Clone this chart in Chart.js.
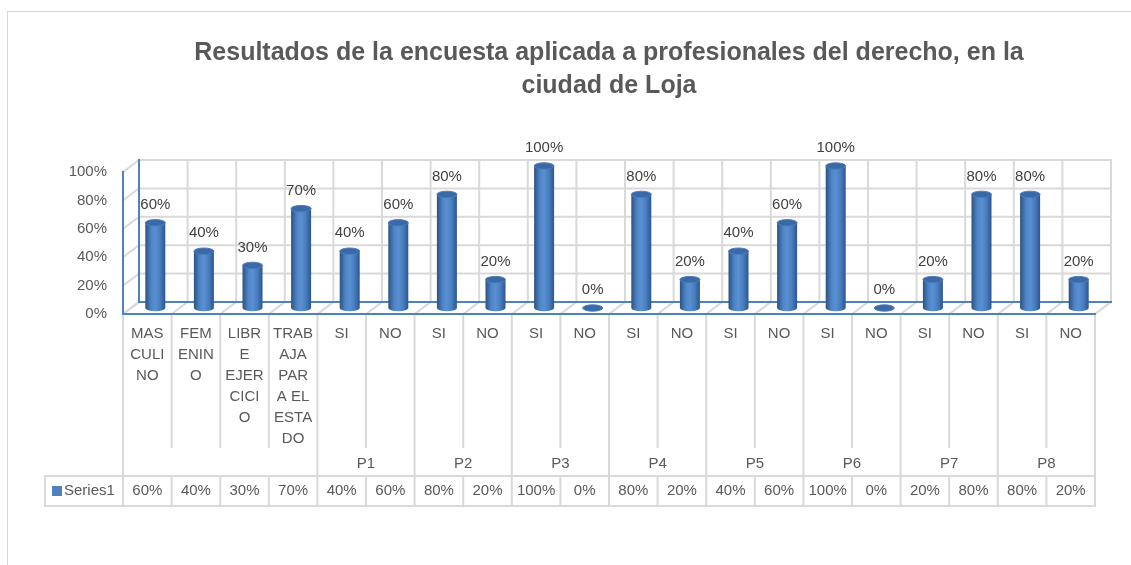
<!DOCTYPE html>
<html>
<head>
<meta charset="utf-8">
<script src="https://cdn.jsdelivr.net/npm/chart.js@4.4.1/dist/chart.umd.min.js"></script>
<style>
  html, body { margin:0; padding:0; background:#fff; overflow:hidden; width:1131px; height:565px; }
  #frame { position:absolute; left:7px; top:11px; width:1300px; height:700px; border:1px solid #d9d9d9; box-sizing:border-box; }
  #c { position:absolute; left:0; top:0; }
</style>
</head>
<body>
<div id="frame"></div>
<canvas id="c" width="1131" height="565"></canvas>
<script>
// ---------- data ----------
const categories = [
  ["MAS","CULI","NO"], ["FEM","ENIN","O"], ["LIBR","E","EJER","CICI","O"], ["TRAB","AJA","PAR","A EL","ESTA","DO"],
  "SI","NO","SI","NO","SI","NO","SI","NO","SI","NO","SI","NO","SI","NO","SI","NO"
];
const groupOf = ["","","","","P1","P1","P2","P2","P3","P3","P4","P4","P5","P5","P6","P6","P7","P7","P8","P8"];
const values = [60,40,30,70,40,60,80,20,100,0,80,20,40,60,100,0,20,80,80,20];
const yTicks = [0,20,40,60,80,100];
const seriesName = "Series1";
const titleLines = ["Resultados de la encuesta aplicada a profesionales del derecho, en la", "ciudad de Loja"];

// ---------- styling ----------
const FONT = "'Liberation Sans', Arial, sans-serif";
const TXT = "#595959";
const GRID = "#d9d9d9";
const AXBLUE = "#4f81bd";
const DX = 16, DY = -12;     // depth offset of back wall
const OX = 8, OY = -6;       // bar offset (mid depth)
const BARW = 20;

function cylinder(ctx, cx, top, bot, w) {
  const rx = w / 2, ry = 3.2;
  if (bot - top > 0.5) {
    const g = ctx.createLinearGradient(cx - rx, 0, cx + rx, 0);
    g.addColorStop(0, '#2b5283');
    g.addColorStop(0.3, '#4f86c8');
    g.addColorStop(0.5, '#5a90d2');
    g.addColorStop(0.75, '#477cbd');
    g.addColorStop(1, '#2c568c');
    ctx.beginPath();
    ctx.moveTo(cx - rx, top);
    ctx.lineTo(cx - rx, bot);
    ctx.ellipse(cx, bot, rx, ry, 0, Math.PI, 0, true);
    ctx.lineTo(cx + rx, top);
    ctx.closePath();
    ctx.fillStyle = g;
    ctx.fill();
  }
  ctx.beginPath();
  ctx.ellipse(cx, top, rx, ry, 0, 0, Math.PI * 2);
  ctx.fillStyle = '#3b69a7';
  ctx.fill();
  ctx.lineWidth = 1;
  ctx.strokeStyle = '#4a7bbd';
  ctx.stroke();
}

function line(ctx, x1, y1, x2, y2, color, w) {
  ctx.beginPath();
  ctx.moveTo(x1, y1); ctx.lineTo(x2, y2);
  ctx.strokeStyle = color; ctx.lineWidth = w; ctx.stroke();
}

const threeD = {
  id: 'threeD',
  beforeDatasetsDraw(chart) {
    const ctx = chart.ctx, a = chart.chartArea, ys = chart.scales.y;
    const n = categories.length, cw = (a.right - a.left) / n;
    ctx.save();
    ctx.lineCap = 'square';
    yTicks.forEach(v => {
      const y = ys.getPixelForValue(v);
      line(ctx, a.left + DX, y + DY, a.right + DX, y + DY, GRID, 2);
      line(ctx, a.left, y, a.left + DX, y + DY, GRID, 2);
    });
    for (let i = 0; i <= n; i++) {
      const x = a.left + i * cw;
      line(ctx, x + DX, a.top + DY, x + DX, a.bottom + DY, GRID, 2);
      line(ctx, x, a.bottom, x + DX, a.bottom + DY, GRID, 2);
    }
    line(ctx, a.left + DX, a.top + DY, a.left + DX, a.bottom + DY, AXBLUE, 2);
    line(ctx, a.left + DX, a.bottom + DY, a.right + DX, a.bottom + DY, AXBLUE, 2);
    line(ctx, a.left, a.top, a.left, a.bottom, AXBLUE, 2);
    line(ctx, a.left, a.bottom, a.right, a.bottom, AXBLUE, 2);
    ctx.restore();
  },
  afterDatasetsDraw(chart) {
    const ctx = chart.ctx, a = chart.chartArea;
    const meta = chart.getDatasetMeta(0);
    const data = chart.data.datasets[0].data;
    ctx.save();
    meta.data.forEach((el, i) => {
      const cx = el.x + OX;
      const top = el.y + OY, bot = el.base + OY;
      cylinder(ctx, cx, top, bot, BARW);
      ctx.fillStyle = '#404040';
      ctx.font = "15px " + FONT;
      ctx.textAlign = 'center';
      ctx.textBaseline = 'middle';
      ctx.fillText(data[i] + '%', cx, top - 18);
    });

    // ---------- data table ----------
    const n = categories.length, cw = (a.right - a.left) / n;
    const tTop = 476, tBot = 506, gLineEnd = 448;
    const legendLeft = 45;
    ctx.lineCap = 'butt';
    line(ctx, legendLeft, tTop, a.right, tTop, GRID, 2);
    line(ctx, legendLeft, tBot, a.right, tBot, GRID, 2);
    line(ctx, legendLeft, tTop - 1, legendLeft, tBot + 1, GRID, 2);
    for (let i = 0; i <= n; i++) {
      const x = a.left + i * cw;
      const full = (i === 0 || i === n || groupOf[i] !== groupOf[i - 1]);
      if (full) {
        line(ctx, x, a.bottom + 1, x, tBot + 1, GRID, 2);
      } else {
        line(ctx, x, a.bottom + 1, x, gLineEnd, GRID, 2);
        line(ctx, x, tTop, x, tBot + 1, GRID, 2);
      }
    }
    ctx.font = "15px " + FONT;
    ctx.fillStyle = TXT;
    ctx.textAlign = 'center';
    ctx.textBaseline = 'middle';
    let s = 0;
    for (let i = 1; i <= n; i++) {
      if (i === n || groupOf[i] !== groupOf[s]) {
        if (groupOf[s]) {
          const cx = a.left + (s + i) / 2 * cw;
          ctx.fillText(groupOf[s], cx, 464);
        }
        s = i;
      }
    }
    data.forEach((v, i) => {
      ctx.fillText(v + '%', a.left + (i + 0.5) * cw, 491);
    });
    ctx.fillStyle = chart.data.datasets[0].legendColor;
    ctx.fillRect(52, 486, 10, 10);
    ctx.fillStyle = TXT;
    ctx.textAlign = 'left';
    ctx.fillText(chart.data.datasets[0].label, 64, 491);
    ctx.restore();
  }
};

new Chart(document.getElementById('c'), {
  type: 'bar',
  data: {
    labels: categories,
    datasets: [{
      label: seriesName,
      data: values,
      backgroundColor: 'rgba(0,0,0,0)',
      borderWidth: 0,
      legendColor: '#4f81bd'
    }]
  },
  options: {
    responsive: false,
    animation: false,
    events: [],
    layout: { padding: { left: 0, right: 36, top: 0, bottom: 0 } },
    plugins: {
      legend: { display: false },
      tooltip: { enabled: false },
      title: {
        display: true,
        text: titleLines,
        fullSize: false,
        color: TXT,
        font: { family: FONT, size: 25, weight: 'bold', lineHeight: '33px' },
        padding: { top: 37, bottom: 69 }
      }
    },
    scales: {
      x: {
        offset: true,
        grid: { display: false, drawTicks: false },
        border: { display: false },
        ticks: {
          autoSkip: false, maxRotation: 0, minRotation: 0,
          color: TXT, padding: 9,
          font: { family: FONT, size: 15, lineHeight: 1.4 }
        },
        afterFit(scale) { scale.height = 251; }
      },
      y: {
        min: 0, max: 100,
        afterBuildTicks(scale) { scale.ticks = yTicks.map(v => ({ value: v })); },
        grid: { display: false, drawTicks: false },
        border: { display: false },
        ticks: {
          color: TXT, padding: 16,
          font: { family: FONT, size: 15 },
          callback: v => v + '%'
        },
        afterFit(scale) { scale.width = 123; }
      }
    }
  },
  plugins: [threeD]
});
</script>
</body>
</html>
